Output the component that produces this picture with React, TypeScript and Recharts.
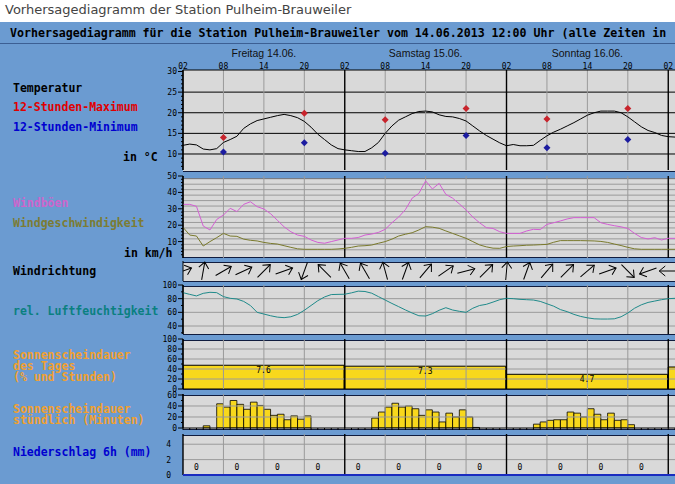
import React from "react";
import { Bar, ComposedChart, LabelList, Line, ReferenceLine, Scatter, XAxis, YAxis } from "recharts";

// x axis: hours since Friday 14.06. 02:00
const hourTicks = [0, 6, 12, 18, 24, 30, 36, 42, 48, 54, 60, 66, 72];
const dayCenters = [12, 36, 60];
const dayNames = ["Freitag 14.06.", "Samstag 15.06.", "Sonntag 16.06."];

const tempHourly = [
  12.1, 12.4, 12.2, 11.2, 11.0, 11.3, 12.8, 13.5, 14.3, 16.2, 17.3, 18.1, 18.5, 18.9, 19.3, 19.6, 19.3, 18.8,
  17.9, 16.5, 14.8, 13.5, 12.2, 11.3, 11.0, 10.8, 10.6, 10.6, 11.5, 12.8, 15.0, 16.8, 18.2, 19.0, 19.8, 20.3,
  20.4, 20.2, 19.5, 19.1, 19.0, 18.6, 18.0, 16.8, 15.6, 14.5, 13.6, 12.7, 12.0, 12.3, 12.0, 12.0, 12.1, 13.3,
  14.4, 15.3, 16.0, 16.8, 17.6, 18.5, 19.4, 20.0, 20.4, 20.4, 20.4, 20.0, 19.0, 17.8, 16.6, 15.7, 15.2, 14.5,
  14.2, 14.1,
];
const extremeHours = [6, 18, 30, 42, 54, 66];
const tempMax = [14.0, 19.9, 18.3, 21.0, 18.5, 21.0];
const tempMin = [10.5, 12.7, 10.2, 14.5, 11.5, 13.5];

const gustHourly = [
  32.7, 32.7, 31.5, 19.5, 17.1, 23.5, 26.2, 30.3, 28.3, 32.7, 34.3, 31.3, 29.9, 27.0, 23.0, 19.0, 16.0, 14.0,
  13.2, 11.0, 9.5, 9.0, 10.0, 11.0, 12.0, 12.0, 12.5, 14.0, 14.6, 15.6, 17.5, 21.5, 25.0, 29.5, 36.5, 39.4,
  47.0, 42.1, 45.5, 38.8, 36.5, 33.0, 29.3, 25.0, 21.5, 18.5, 18.0, 16.0, 15.0, 15.0, 15.0, 16.5, 17.5, 17.3,
  20.5, 21.5, 22.6, 23.8, 24.6, 24.6, 24.6, 24.6, 21.5, 20.5, 19.7, 19.0, 18.0, 15.0, 12.5, 11.6, 12.4, 11.0,
  12.0, 12.0,
];
const windHourly = [
  18.7, 14.0, 13.4, 7.3, 10.0, 12.4, 15.0, 13.4, 13.2, 11.5, 10.8, 10.4, 9.5, 8.9, 8.5, 7.5, 6.5, 5.6, 5.3,
  5.3, 5.3, 5.3, 5.3, 5.5, 5.9, 6.5, 7.3, 7.5, 7.9, 9.0, 10.0, 11.5, 13.4, 14.5, 15.4, 17.1, 19.1, 18.8, 18.1,
  16.5, 15.0, 13.5, 12.0, 10.0, 8.0, 6.8, 6.0, 5.9, 7.0, 7.3, 7.5, 7.8, 7.9, 8.1, 8.3, 9.6, 10.6, 10.6, 10.6,
  10.6, 10.5, 10.4, 10.1, 9.5, 8.5, 7.6, 6.5, 5.6, 5.3, 5.3, 5.3, 5.3, 5.3, 5.3,
];

// wind direction arrows every 3 hours, degrees the arrow points to (0 = up)
const dirHours = [0, 3, 6, 9, 12, 15, 18, 21, 24, 27, 30, 33, 36, 39, 42, 45, 48, 51, 54, 57, 60, 63, 66, 69, 72];
const dirDeg = [70, 10, 60, 65, 45, 70, 200, 315, 330, 330, 345, 20, 40, 55, 75, 45, 5, 20, 40, 45, 50, 70, 135, 250, 270];

const humHourly = [
  88.8, 86.3, 84.0, 87.8, 89.3, 88.8, 83.0, 80.5, 79.5, 76.0, 70.0, 60.0, 57.5, 55.0, 53.0, 52.2, 53.5, 57.0,
  63.0, 70.0, 77.0, 82.5, 86.0, 86.3, 86.5, 88.5, 91.0, 90.5, 88.0, 83.0, 78.0, 73.0, 68.3, 63.5, 59.0, 55.0,
  54.6, 58.0, 63.0, 66.8, 63.4, 61.5, 60.0, 66.0, 70.0, 71.7, 75.0, 78.5, 80.5, 80.0, 79.0, 78.5, 78.0, 76.0,
  72.5, 69.0, 64.0, 61.0, 57.0, 54.0, 52.0, 50.5, 50.2, 50.2, 50.5, 53.5, 59.0, 66.0, 71.0, 74.5, 76.5, 78.5,
  80.0, 80.5,
];

const sunDayCenters = [12, 36, 60, 84];
const sunDayPct = [47.5, 45.6, 29.4, 44];
const sunDayHours = ["7.6", "7.3", "4.7", ""];

// minutes of sunshine in the hour starting at index
const sunHourly = [
  0, 0, 0, 4, 0, 44, 38, 50, 43, 34, 47, 41, 34, 23, 25, 15, 22, 16, 22, 0, 0, 0, 0, 0, 0, 0, 0, 0, 18, 29, 38,
  45, 38, 40, 35, 23, 33, 29, 11, 27, 20, 33, 20, 1, 0, 0, 0, 0, 0, 0, 0, 0, 7, 11, 14, 15, 15, 29, 27, 20, 35,
  25, 15, 27, 14, 15, 6, 0, 0, 0, 0, 0, 0,
];

const precipHours = [2, 8, 14, 20, 26, 32, 38, 44, 50, 56, 62, 68];
const precipMm = [0, 0, 0, 0, 0, 0, 0, 0, 0, 0, 0, 0];

const BLUE = "#6b9bd1";
const PANEL = "#d9d9d9";
const GRID = "#9a9a9a";
const DARK = "#101c3e";
const MONO = "'DejaVu Sans Mono', monospace";
const W = 675;
const LEFT = 183;
const PAD = 6;
const X_DOMAIN: [number, number] = [0, 73];

const hourly = tempHourly.map((t, h) => ({ h, t, gust: gustHourly[h], wind: windHourly[h], hum: humHourly[h] }));
const extremes = extremeHours.map((h, i) => ({ h, max: tempMax[i], min: tempMin[i] }));
const dirs = dirHours.map((h, i) => ({ h, v: 0.5, deg: dirDeg[i] }));
const sunDays = sunDayCenters.map((h, i) => ({ h, pct: sunDayPct[i], lab: sunDayHours[i] }));
const sunHours = sunHourly.map((m, i) => ({ h: i + 0.5, m }));
const precip = precipHours.map((h, i) => ({ h, mm: precipMm[i] }));

const range = (a: number, b: number, s: number) => {
  const out: number[] = [];
  for (let v = a; v <= b + 1e-9; v += s) out.push(Math.round(v * 100) / 100);
  return out;
};

function makeTick(labels: number[], dash = true) {
  return function Tick(props: any) {
    const { x, y, payload } = props;
    const lab = labels.includes(payload.value);
    return (
      <g>
        {dash && <line x1={x - (lab ? 5 : 2)} x2={x} y1={y} y2={y} stroke="#000" />}
        {lab && (
          <text x={dash ? x - 6 : x - 12} y={y + 3} textAnchor="end" fontFamily={MONO} fontSize={8} fill="#000">
            {payload.value}
          </text>
        )}
      </g>
    );
  };
}

const vGrid = (k: string) =>
  hourTicks.map((h) => (
    <ReferenceLine
      key={k + h}
      x={h}
      stroke={h % 24 === 0 ? "#000" : GRID}
      strokeWidth={h % 24 === 0 ? 1.4 : 1}
    />
  ));

const hGrid = (k: string, values: number[], color = GRID) =>
  values.map((v) => <ReferenceLine key={k + "y" + v} y={v} stroke={color} />);

const hiddenX = <XAxis dataKey="h" type="number" domain={X_DOMAIN} allowDataOverflow hide />;

// top = plot top in page pixels, height = plot height, above/below = space taken by axes
function Panel({ top, height, above = 0, below = 0, data, children }: any) {
  return (
    <div style={{ position: "absolute", left: 0, top: top - above - PAD }}>
      <ComposedChart
        width={W}
        height={height + above + below + 2 * PAD}
        data={data}
        margin={{ top: PAD, right: 0, bottom: PAD, left: LEFT - 1 }}
      >
        {children}
      </ComposedChart>
    </div>
  );
}

const Diamond = (color: string) => (props: any) => {
  const { cx, cy } = props;
  return <polygon points={`${cx},${cy - 3.5} ${cx + 3.5},${cy} ${cx},${cy + 3.5} ${cx - 3.5},${cy}`} fill={color} />;
};

const Arrow = (props: any) => {
  const { cx, cy, payload } = props;
  return (
    <g transform={`rotate(${payload.deg} ${cx} ${cy})`} stroke="#000" strokeWidth={1} fill="none">
      <line x1={cx} y1={cy + 9} x2={cx} y2={cy - 9} />
      <polyline points={`${cx - 5},${cy - 3} ${cx},${cy - 9} ${cx + 5},${cy - 3}`} />
    </g>
  );
};

const strips = [171, 257, 281, 334, 389, 429];
const stripHeights = [6, 4, 4, 5, 5, 5];

const sideLabels: { t: string; y: number; c: string; x?: number }[] = [
  { t: "Temperatur", y: 88, c: "#000" },
  { t: "12-Stunden-Maximum", y: 107, c: "#e00000" },
  { t: "12-Stunden-Minimum", y: 127, c: "#0000d0" },
  { t: "in °C", y: 157, c: "#000", x: 123 },
  { t: "Windböen", y: 203, c: "#cc66cc" },
  { t: "Windgeschwindigkeit", y: 223, c: "#7c7c34" },
  { t: "in km/h", y: 253, c: "#000", x: 124 },
  { t: "Windrichtung", y: 271, c: "#000" },
  { t: "rel. Luftfeuchtigkeit", y: 311, c: "#0a8080" },
  { t: "Sonnenscheindauer", y: 355, c: "#f0a030" },
  { t: "des Tages", y: 366, c: "#f0a030" },
  { t: "(% und Stunden)", y: 377, c: "#f0a030" },
  { t: "Sonnenscheindauer", y: 409, c: "#f0a030" },
  { t: "stündlich (Minuten)", y: 420, c: "#f0a030" },
  { t: "Niederschlag 6h (mm)", y: 452, c: "#0000d0" },
];

const hourLabel = (h: number) => String((h + 2) % 24).padStart(2, "0");
const precipLabel = (h: number) => {
  const i = precipHours.indexOf(h);
  return i < 0 ? "" : String(precipMm[i]);
};

const yAxisBase = {
  allowDataOverflow: true,
  width: 1,
  interval: 0 as const,
  tickSize: 0,
  tickMargin: 0,
  tickLine: false,
  axisLine: { stroke: "#000" },
};

export default function App() {
  return (
    <div style={{ position: "absolute", left: 0, top: 0, width: W, height: 484, overflow: "hidden", background: "#fff" }}>
      <div style={{ position: "absolute", left: 5, top: 2, fontFamily: "'DejaVu Sans', sans-serif", fontSize: 13, color: "#444" }}>
        Vorhersagediagramm der Station Pulheim-Brauweiler
      </div>
      <div style={{ position: "absolute", left: 0, top: 22, width: W, height: 462, background: BLUE }} />
      <div
        style={{
          position: "absolute",
          left: 10,
          top: 26,
          whiteSpace: "nowrap",
          fontFamily: MONO,
          fontWeight: "bold",
          fontSize: 11.6,
          lineHeight: "14px",
          color: "#000",
        }}
      >
        Vorhersagediagramm für die Station Pulheim-Brauweiler vom 14.06.2013 12:00 Uhr (alle Zeiten in
      </div>
      <div style={{ position: "absolute", left: 0, top: 43, width: W, height: 1, background: "#3c5f93" }} />
      <div style={{ position: "absolute", left: LEFT, top: 70, width: W - LEFT, height: 404, background: PANEL }} />

      {sideLabels.map((s, i) => (
        <div
          key={i}
          style={{
            position: "absolute",
            left: s.x ?? 13,
            top: s.y - 5,
            lineHeight: "10px",
            whiteSpace: "nowrap",
            fontFamily: MONO,
            fontWeight: "bold",
            fontSize: 11.5,
            color: s.c,
          }}
        >
          {s.t}
        </div>
      ))}

      {strips.map((t, i) => (
        <div
          key={i}
          style={{
            position: "absolute",
            left: LEFT,
            top: t,
            width: W - LEFT,
            height: stripHeights[i],
            background: BLUE,
            borderTop: `1px solid ${DARK}`,
            borderBottom: `1px solid ${DARK}`,
          }}
        />
      ))}

      {/* Temperatur */}
      <Panel top={70} height={100} above={25} data={hourly}>
        <XAxis
          dataKey="h"
          type="number"
          orientation="top"
          domain={X_DOMAIN}
          allowDataOverflow
          ticks={hourTicks}
          interval={0}
          height={12}
          tickLine={false}
          tickSize={0}
          tickMargin={1}
          axisLine={{ stroke: "#000" }}
          tickFormatter={hourLabel}
          tick={{ fontSize: 8, fontFamily: MONO, fill: "#000" }}
        />
        <XAxis
          xAxisId="day"
          dataKey="h"
          type="number"
          orientation="top"
          domain={X_DOMAIN}
          allowDataOverflow
          ticks={dayCenters}
          interval={0}
          height={13}
          tickLine={false}
          axisLine={false}
          tickSize={0}
          tickMargin={1}
          tickFormatter={(v: number) => dayNames[dayCenters.indexOf(v)] ?? ""}
          tick={{ fontSize: 10.5, fontFamily: "'Liberation Sans', sans-serif", fill: "#111" }}
        />
        <YAxis {...yAxisBase} domain={[6.12, 30.36]} ticks={range(7, 30, 1)} tick={makeTick([10, 15, 20, 25, 30])} />
        {hGrid("t", [10, 15, 20, 25], "#000")}
        {vGrid("t")}
        <Line dataKey="t" stroke="#000" strokeWidth={1} dot={false} isAnimationActive={false} />
        <Scatter data={extremes} dataKey="max" shape={Diamond("#c8242c")} isAnimationActive={false} />
        <Scatter data={extremes} dataKey="min" shape={Diamond("#1c1ca0")} isAnimationActive={false} />
      </Panel>

      {/* Wind */}
      <Panel top={176} height={82} data={hourly}>
        {hiddenX}
        <YAxis {...yAxisBase} domain={[0, 50]} ticks={range(2, 50, 2)} tick={makeTick([10, 20, 30, 40, 50])} />
        {hGrid("w", range(5, 48.4, 10 / 3))}
        {vGrid("w")}
        <Line dataKey="gust" stroke="#d45fd4" strokeWidth={1} dot={false} isAnimationActive={false} />
        <Line dataKey="wind" stroke="#7a7a2c" strokeWidth={1} dot={false} isAnimationActive={false} />
      </Panel>

      {/* Windrichtung */}
      <Panel top={261} height={20} data={dirs}>
        {hiddenX}
        <YAxis {...yAxisBase} domain={[0, 1]} ticks={[]} tick={false} />
        <Scatter dataKey="v" shape={Arrow} isAnimationActive={false} />
      </Panel>

      {/* Luftfeuchtigkeit */}
      <Panel top={285} height={49} data={hourly}>
        {hiddenX}
        <YAxis {...yAxisBase} domain={[28.3, 100]} ticks={range(30, 100, 10)} tick={makeTick([40, 60, 80, 100])} />
        {hGrid("h", [40, 60, 80])}
        {vGrid("h")}
        <Line dataKey="hum" stroke="#1f8a8a" strokeWidth={1} dot={false} isAnimationActive={false} />
      </Panel>

      {/* Sonnenscheindauer des Tages */}
      <Panel top={339} height={50} data={sunDays}>
        {hiddenX}
        <YAxis {...yAxisBase} domain={[0, 100]} ticks={range(0, 100, 10)} tick={makeTick([0, 20, 40, 60, 80, 100])} />
        {hGrid("d", [20, 40, 60, 80])}
        {vGrid("d")}
        <Bar dataKey="pct" barSize={161} fill="#f8d81c" stroke="#000" strokeWidth={1} isAnimationActive={false}>
          <LabelList dataKey="lab" position="insideTop" offset={2} fontSize={8} fontFamily={MONO} fill="#000" />
        </Bar>
      </Panel>

      {/* Sonnenscheindauer stündlich */}
      <Panel top={394} height={34} below={1} data={sunHours}>
        <XAxis
          dataKey="h"
          type="number"
          domain={X_DOMAIN}
          allowDataOverflow
          ticks={range(0, 73, 1)}
          interval={0}
          height={1}
          tickSize={2}
          tick={() => <g />}
          tickLine={{ stroke: "#000" }}
          axisLine={{ stroke: "#000" }}
        />
        <YAxis {...yAxisBase} domain={[0, 61.8]} ticks={range(0, 60, 10)} tick={makeTick([0, 20, 40, 60])} />
        {hGrid("s", [20, 40])}
        {vGrid("s")}
        <Bar dataKey="m" barSize={6.7} fill="#f8d81c" stroke="#000" strokeWidth={0.8} isAnimationActive={false} />
      </Panel>

      {/* Niederschlag */}
      <Panel top={434} height={40} below={1} data={precip}>
        <XAxis
          dataKey="h"
          type="number"
          domain={X_DOMAIN}
          allowDataOverflow
          ticks={precipHours}
          interval={0}
          height={1}
          mirror
          tickSize={0}
          tickMargin={5}
          tickLine={false}
          tickFormatter={precipLabel}
          tick={{ fontSize: 8, fontFamily: MONO, fill: "#000" }}
          axisLine={{ stroke: "#1a2cc0", strokeWidth: 2 }}
        />
        <YAxis {...yAxisBase} axisLine={false} domain={[0, 5.33]} ticks={[0, 2, 4]} tick={makeTick([0, 2, 4], false)} />
        {hGrid("p", [2, 4])}
        {vGrid("p")}
        <Bar dataKey="mm" barSize={6} fill="#1a2cc0" isAnimationActive={false} />
      </Panel>
    </div>
  );
}
